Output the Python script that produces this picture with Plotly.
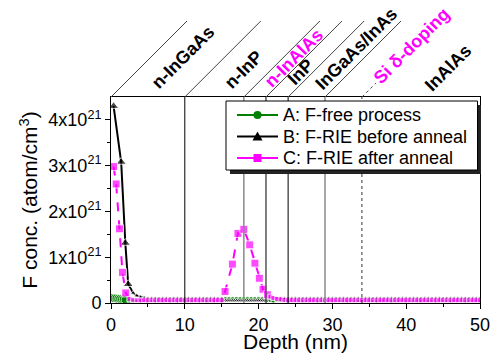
import plotly.graph_objects as go

# ---------------- data (F concentration in units of 1e21 atom/cm^3) ----------------
depth_A = [0.0, 0.25, 0.5, 0.75, 1.0, 1.25, 1.5, 1.75, 2.0, 2.5, 3.0, 4.0, 5.0, 6.0, 7.0, 8.0,
           9.0, 10.0, 11.0, 12.0, 13.0, 14.0, 15.0, 15.5, 16.0, 16.5, 17.0, 17.5, 18.0, 18.5,
           19.0, 19.5, 20.0, 20.5, 21.0, 22.0, 24.0, 26.0, 28.0, 30.0, 32.0, 34.0, 36.0, 38.0,
           40.0, 42.0, 44.0, 46.0, 48.0, 50.0]
conc_A = [0.11, 0.11, 0.10, 0.10, 0.09, 0.09, 0.08, 0.08, 0.07, 0.05, 0.05, 0.05, 0.05, 0.05,
          0.05, 0.05, 0.05, 0.05, 0.05, 0.05, 0.05, 0.05, 0.05, 0.09, 0.09, 0.09, 0.09, 0.09,
          0.09, 0.09, 0.09, 0.09, 0.09, 0.09, 0.05, 0.05, 0.05, 0.05, 0.05, 0.05, 0.05, 0.05,
          0.05, 0.05, 0.05, 0.05, 0.05, 0.05, 0.05, 0.05]

depth_B = [0.35, 1.38, 1.94, 2.33, 3.0, 3.5, 4.0, 4.5, 5.0, 5.5, 6.0, 6.5, 7.0, 7.5, 8.0, 8.5,
           9.0, 9.5, 10.0, 10.5, 11.0, 11.5, 12.0, 12.5, 13.0, 13.5, 14.0, 14.5, 15.0, 15.5,
           15.75, 16.0, 16.25, 16.5, 16.75, 17.0, 17.25, 17.5, 17.75, 18.0, 18.25, 18.5, 18.75,
           19.0, 19.25, 19.5, 19.75, 20.0, 20.25, 20.5, 20.75, 21.0, 21.5,
           22.0, 22.5, 23.0, 23.5, 24.0, 24.5, 25.0, 25.5, 26.0, 26.5, 27.0, 27.5, 28.0, 28.5,
           29.0, 29.5, 30.0, 30.5, 31.0, 31.5, 32.0, 32.5, 33.0, 33.5, 34.0, 34.5, 35.0, 35.5,
           36.0, 36.5, 37.0, 37.5, 38.0, 38.5, 39.0, 39.5, 40.0, 40.5, 41.0, 41.5, 42.0, 42.5,
           43.0, 43.5, 44.0, 44.5, 45.0, 45.5, 46.0, 46.5, 47.0, 47.5, 48.0, 48.5, 49.0, 49.5,
           50.0]
conc_B = [4.30, 3.08, 1.31, 0.41, 0.22, 0.16, 0.13, 0.11, 0.10, 0.10, 0.10, 0.10, 0.10, 0.10,
          0.10, 0.10, 0.10, 0.10, 0.10, 0.10, 0.10, 0.10, 0.10, 0.10, 0.10, 0.10, 0.10, 0.10,
          0.10, 0.05,
          0.05, 0.05, 0.05, 0.05, 0.05, 0.05, 0.05, 0.05, 0.05, 0.05, 0.05, 0.05, 0.05,
          0.05, 0.05, 0.05, 0.05, 0.05, 0.05, 0.05, 0.05, 0.05, 0.10,
          0.10, 0.10, 0.10, 0.10, 0.10, 0.10, 0.10, 0.10, 0.10, 0.10, 0.10, 0.10, 0.10, 0.10,
          0.10, 0.10, 0.10, 0.10, 0.10, 0.10, 0.10, 0.10, 0.10, 0.10, 0.10, 0.10, 0.10, 0.10,
          0.10, 0.10, 0.10, 0.10, 0.10, 0.10, 0.10, 0.10, 0.10, 0.10, 0.10, 0.10, 0.10, 0.10,
          0.10, 0.10, 0.10, 0.10, 0.10, 0.10, 0.10, 0.10, 0.10, 0.10, 0.10, 0.10, 0.10, 0.10,
          0.10]

depth_C = [0.35, 0.7, 1.15, 1.55, 2.0, 2.5, 3.0, 3.5, 4.0, 4.5, 5.0, 5.5, 6.0, 6.5, 7.0, 7.5,
           8.0, 8.5, 9.0, 9.5, 10.0, 10.5, 11.0, 11.5, 12.0, 12.5, 13.0, 13.5, 14.0, 14.5, 15.0,
           15.45, 16.45, 17.2, 18.0, 18.8, 19.5, 20.1, 20.6, 21.2, 21.6, 22.0, 22.5, 23.0, 23.5,
           24.0, 24.5, 25.0, 25.5, 26.0, 26.5, 27.0, 27.5, 28.0, 28.5, 29.0, 29.5, 30.0, 30.5,
           31.0, 31.5, 32.0, 32.5, 33.0, 33.5, 34.0, 34.5, 35.0, 35.5, 36.0, 36.5, 37.0, 37.5,
           38.0, 38.5, 39.0, 39.5, 40.0, 40.5, 41.0, 41.5, 42.0, 42.5, 43.0, 43.5, 44.0, 44.5,
           45.0, 45.5, 46.0, 46.5, 47.0, 47.5, 48.0, 48.5, 49.0, 49.5, 50.0]
conc_C = [2.98, 2.60, 1.62, 0.67, 0.22, 0.09, 0.07, 0.06, 0.06, 0.06, 0.06, 0.06, 0.06, 0.06,
          0.06, 0.06, 0.06, 0.06, 0.06, 0.06, 0.06, 0.06, 0.06, 0.06, 0.06, 0.06, 0.06, 0.06,
          0.06, 0.06, 0.06,
          0.25, 0.85, 1.52, 1.61, 1.27, 0.87, 0.54, 0.30, 0.18, 0.14, 0.11, 0.09, 0.08, 0.07,
          0.06, 0.06, 0.06, 0.06, 0.06, 0.06, 0.06, 0.06, 0.06, 0.06, 0.06, 0.06, 0.06, 0.06,
          0.06, 0.06, 0.06, 0.06, 0.06, 0.06, 0.06, 0.06, 0.06, 0.06, 0.06, 0.06, 0.06, 0.06,
          0.06, 0.06, 0.06, 0.06, 0.06, 0.06, 0.06, 0.06, 0.06, 0.06, 0.06, 0.06, 0.06, 0.06,
          0.06, 0.06, 0.06, 0.06, 0.06, 0.06, 0.06, 0.06, 0.06, 0.06, 0.06]

series_names = ["A: F-free process", "B: F-RIE before anneal", "C: F-RIE after anneal"]

y_tick_vals = [0, 1, 2, 3, 4]
y_tick_text = ["0", "1x10<sup>21</sup>", "2x10<sup>21</sup>", "3x10<sup>21</sup>", "4x10<sup>21</sup>"]

# layer boundaries (nm) and layer labels
boundaries = [0, 10, 18, 21, 24, 29, 34]
layer_labels = ["n-InGaAs", "n-InP", "n-InAlAs", "InP", "InGaAs/InAs", "Si δ-doping", "InAlAs"]
label_x = [9.8, 17.9, 24.8, 25.7, 33.2, 40.7, 45.7]
label_y = [1.194, 1.133, 1.189, 1.119, 1.233, 1.249, 1.139]
label_colors = ["black", "black", "#FF00FF", "black", "black", "#FF00FF", "black"]

GREEN = "#008000"
MAG = "#FF00FF"
FONT = "Arial, Liberation Sans, sans-serif"

W, H = 490, 353
# plot-area geometry in screenshot pixels
L, R, T, B = 111, 480, 97, 303
def px(x):
    return (x - L) / (R - L)
def py(y):
    return (B - y) / (B - T)

fig = go.Figure()

size_A = [9 if d <= 2.0 else 5 for d in depth_A]
size_B = [9 if i < 4 else 5 for i in range(len(depth_B))]
size_C = [8 if (i < 5 or 31 <= i <= 39) else 5 for i in range(len(depth_C))]

fig.add_trace(go.Scatter(x=depth_A, y=conc_A, mode="lines+markers", name=series_names[0],
                         showlegend=False, line=dict(color=GREEN, width=2),
                         marker=dict(symbol="circle", size=size_A, color=GREEN)))
fig.add_trace(go.Scatter(x=depth_B, y=conc_B, mode="lines+markers", name=series_names[1],
                         showlegend=False, line=dict(color="black", width=2),
                         marker=dict(symbol="triangle-up", size=size_B, color="black")))
fig.add_trace(go.Scatter(x=depth_C, y=conc_C, mode="lines+markers", name=series_names[2],
                         showlegend=False, line=dict(color=MAG, width=2, dash="dash"),
                         marker=dict(symbol="square", size=size_C, color=MAG)))

shapes = []
vstyles = {10: ("black", 1, "solid"), 18: ("#8a8a8a", 1.5, "solid"), 21: ("#555555", 1.5, "solid"),
           24: ("black", 1, "solid"), 29: ("#8a8a8a", 1.5, "solid"), 34: ("#333333", 1, "dot")}
for b in boundaries[1:]:
    c, w, d = vstyles[b]
    shapes.append(dict(type="line", xref="x", yref="paper", x0=b, x1=b, y0=0, y1=1,
                       line=dict(color=c, width=w, dash=d), layer="above"))
for b in boundaries:
    ln = 14 if b == 34 else 76
    dash = "dot" if b == 34 else "solid"
    shapes.append(dict(type="line", xref="x", yref="paper", xsizemode="pixel", ysizemode="pixel",
                       xanchor=b, yanchor=1, x0=0, x1=ln, y0=0, y1=ln,
                       line=dict(color="#444444", width=1, dash=dash), layer="above"))

# hand-drawn legend: shadow, box, sample lines, symbols
shapes.append(dict(type="rect", xref="paper", yref="paper", x0=px(230), x1=px(481),
                   y0=py(174), y1=py(105), fillcolor="#222222", line=dict(width=0), layer="above"))
shapes.append(dict(type="rect", xref="paper", yref="paper", x0=px(226), x1=px(477.5),
                   y0=py(170), y1=py(101), fillcolor="white", line=dict(color="black", width=1),
                   layer="above"))
rows = [115, 136.5, 158]
cols = [GREEN, "black", MAG]
for rowy, col, k in zip(rows, cols, range(3)):
    shapes.append(dict(type="line", xref="paper", yref="paper", x0=px(237), x1=px(278),
                       y0=py(rowy), y1=py(rowy), line=dict(color=col, width=2), layer="above"))
    cx, cy = 257.5, rowy
    if k == 0:
        shapes.append(dict(type="circle", xref="paper", yref="paper", x0=px(cx - 4), x1=px(cx + 4),
                           y0=py(cy + 4), y1=py(cy - 4), fillcolor=col, line=dict(color=col, width=0),
                           layer="above"))
    elif k == 1:
        path = (f"M {px(cx - 5)},{py(cy + 4)} L {px(cx + 5)},{py(cy + 4)} "
                f"L {px(cx)},{py(cy - 5)} Z")
        shapes.append(dict(type="path", xref="paper", yref="paper", path=path, fillcolor=col,
                           line=dict(color=col, width=0), layer="above"))
    else:
        shapes.append(dict(type="rect", xref="paper", yref="paper", x0=px(cx - 4), x1=px(cx + 4),
                           y0=py(cy + 4), y1=py(cy - 4), fillcolor=col, line=dict(color=col, width=0),
                           layer="above"))

annotations = []
for name, rowy in zip(series_names, rows):
    annotations.append(dict(text=name, x=px(281), y=py(rowy), xref="paper", yref="paper",
                            showarrow=False, xanchor="left", yanchor="middle",
                            font=dict(family=FONT, size=18, color="black")))
for t, x, y, c in zip(layer_labels, label_x, label_y, label_colors):
    annotations.append(dict(text=f"<b>{t}</b>", x=x, y=y, xref="x", yref="paper",
                            showarrow=False, textangle=-45, xanchor="center", yanchor="middle",
                            font=dict(family=FONT, size=18, color=c)))

fig.update_layout(
    width=W, height=H,
    margin=dict(l=L, r=W - R, t=T, b=H - B),
    paper_bgcolor="white", plot_bgcolor="white",
    font=dict(family=FONT, size=18, color="black"),
    shapes=shapes, annotations=annotations, showlegend=False,
    xaxis=dict(range=[0, 50], dtick=10, tick0=0, showline=True, linecolor="black", linewidth=1,
               mirror=True, ticks="outside", ticklen=5, tickcolor="black", showgrid=False,
               zeroline=False, tickfont=dict(size=18), automargin=False,
               ticklabeloverflow="allow",
               minor=dict(dtick=5, ticks="outside", ticklen=3, tickcolor="black"),
               title=dict(text="Depth (nm)", font=dict(size=21), standoff=0)),
    yaxis=dict(range=[0, 4.5], tickvals=y_tick_vals, ticktext=y_tick_text, showline=True,
               linecolor="black", linewidth=1, mirror=True, ticks="outside", ticklen=5,
               tickcolor="black", showgrid=False, zeroline=False, tickfont=dict(size=18),
               automargin=False, ticklabeloverflow="allow",
               minor=dict(tickvals=[0.5, 1.5, 2.5, 3.5], ticks="outside", ticklen=3,
                          tickcolor="black"),
               title=dict(text="F conc. (atom/cm<sup>3</sup>)", font=dict(size=21), standoff=4)),
)

# remove the default page margin so the figure sits at the window's top-left corner
fig.write_html("out.html", config={"displayModeBar": False},
               post_script="document.body.style.margin='0';document.body.style.overflow='hidden';")
